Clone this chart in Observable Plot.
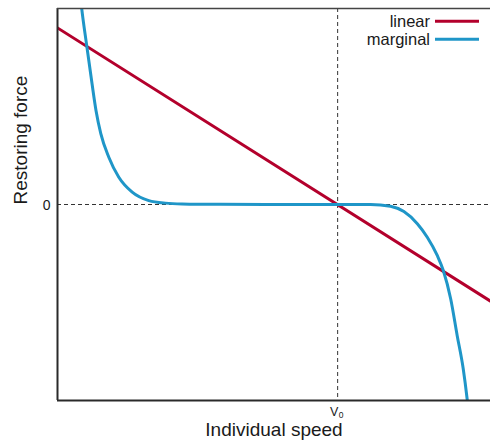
<!DOCTYPE html>
<html><head><meta charset="utf-8">
<script src="https://cdn.jsdelivr.net/npm/d3@7"></script>
<script src="https://cdn.jsdelivr.net/npm/@observablehq/plot@0.6"></script>
<style>
body{margin:0;background:#fff;}
#chart{width:490px;height:445px;}
</style></head><body><div id="chart"></div>
<script>
// Reference speed V0 (in relative speed units, x domain 0..1)
const v0 = 0.647;

// Linear restoring force
const linearX = [0, 1];
const linearY = [0.901, -0.493];

// Marginal restoring force
const marginalX = [0.0529, 0.0554, 0.0681, 0.0797, 0.0889, 0.1000, 0.1185, 0.1416, 0.1725, 0.2109, 0.2494, 0.288, 0.376, 0.561, 0.647, 0.723, 0.769, 0.800, 0.831, 0.854, 0.877, 0.891, 0.908, 0.923, 0.937, 0.946, 0.949];
const marginalY = [1.061, 1.010, 0.801, 0.617, 0.480, 0.362, 0.241, 0.139, 0.063, 0.020, 0.007, 0.003, 0.001, 0.0, 0.0, 0.0, -0.009, -0.036, -0.098, -0.167, -0.260, -0.337, -0.481, -0.668, -0.838, -0.991, -1.05];

const seriesNames = ["linear", "marginal"];
const seriesColors = ["#b3002c", "#1f96c8"];

const yTicks = [0];
const yTickLabels = ["0"];
const xTicks = [v0];
const xTickLabels = ["V0"];

const xLabel = "Individual speed";
const yLabel = "Restoring force";

const linear = linearX.map((x, i) => ({x, y: linearY[i]}));
const marginal = marginalX.map((x, i) => ({x, y: marginalY[i]}));
const yLab = new Map(yTicks.map((t, i) => [t, yTickLabels[i]]));
const xLab = new Map(xTicks.map((t, i) => [t, xTickLabels[i]]));

const font = "'Liberation Sans', Arial, Helvetica, sans-serif";

const plot = Plot.plot({
  width: 490, height: 445,
  marginTop: 8, marginLeft: 57, marginRight: 0, marginBottom: 45,
  x: {domain: [0, 1], axis: null},
  y: {domain: [-1, 1], axis: null},
  style: {fontFamily: font, color: "#1a1a1a", background: "#fff"},
  marks: [
    Plot.ruleY([0], {stroke: "#333", strokeWidth: 1, strokeDasharray: "4,3"}),
    Plot.ruleX([v0], {stroke: "#333", strokeWidth: 1, strokeDasharray: "4,3"}),
    Plot.line(linear, {x: "x", y: "y", stroke: seriesColors[0], strokeWidth: 3, clip: true}),
    Plot.line(marginal, {x: "x", y: "y", stroke: seriesColors[1], strokeWidth: 3, curve: "monotone-x", clip: true}),
    Plot.ruleX([0], {stroke: "#2a2a2a", strokeWidth: 2}),
    Plot.ruleY([-1], {stroke: "#2a2a2a", strokeWidth: 2}),
    Plot.ruleY([1], {stroke: "#444", strokeWidth: 1.5}),
    Plot.axisY(yTicks, {tickSize: 0, tickPadding: 7, fontSize: 14, dy: 1.5, tickFormat: d => yLab.get(d), label: null}),
    Plot.axisX(xTicks, {tickSize: 0, tickPadding: 6.5, fontSize: 12.5, dx: -1, tickFormat: d => xLab.get(d), label: null}),
    Plot.text([yLabel], {frameAnchor: "left", dx: -37, rotate: -90, fontSize: 19, fill: "#1a1a1a"}),
    Plot.text([xLabel], {frameAnchor: "bottom", dy: 35.5, fontSize: 19, fill: "#1a1a1a"})
  ]
});

document.getElementById("chart").append(plot);

// Subscript for V0
const svg = d3.select(plot);
svg.selectAll("text").each(function() {
  const t = d3.select(this);
  if (this.textContent === "V0") {
    t.text(null);
    t.append("tspan").text("V");
    t.append("tspan").attr("font-size", 8.5).attr("dx", 0.4).attr("dy", 2.2).text("0");
  }
});

// Legend (top-right, inside frame)
const lg = svg.append("g").attr("font-family", font).attr("font-size", 16.5).attr("fill", "#1a1a1a");
seriesNames.forEach((name, i) => {
  const base = 26.5 + i * 18;
  lg.append("text").attr("x", 430).attr("y", base).attr("text-anchor", "end").text(name);
  lg.append("line").attr("x1", 435).attr("x2", 479).attr("y1", base - 5.3).attr("y2", base - 5.3)
    .attr("stroke", seriesColors[i]).attr("stroke-width", 3);
});
</script></body></html>
